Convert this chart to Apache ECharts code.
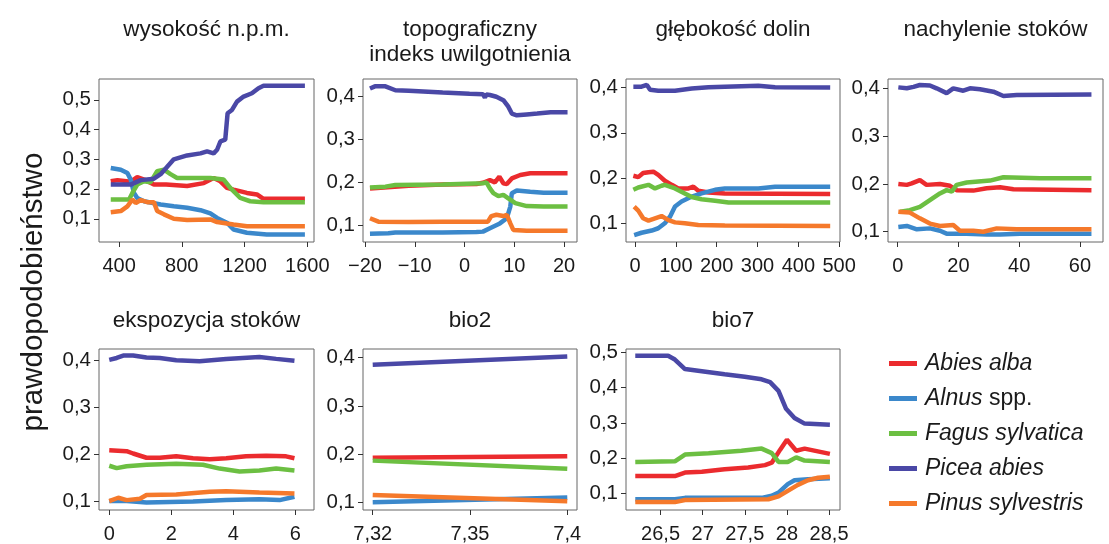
<!DOCTYPE html>
<html>
<head>
<meta charset="utf-8">
<script src="https://cdn.jsdelivr.net/npm/echarts@6/dist/echarts.min.js"></script>
<style>
  html, body { margin: 0; padding: 0; background: #fff; }
  #chart { width: 1109px; height: 544px; }
</style>
</head>
<body>
<div id="chart"></div>
<script>
const FONT = '"Liberation Sans", Arial, Helvetica, sans-serif';

const speciesNames = ['Abies alba', 'Alnus spp.', 'Fagus sylvatica', 'Picea abies', 'Pinus sylvestris'];
const speciesColors = ['#eb2b2e', '#3b88cb', '#6cbf42', '#4a48a6', '#f5792b'];

// wysokość n.p.m.
const elevAbies = [[347,0.226],[390,0.23],[474,0.225],[516,0.24],[560,0.232],[622,0.215],[700,0.215],[834,0.21],[940,0.22],[1003,0.237],[1046,0.226],[1088,0.204],[1130,0.198],[1215,0.187],[1279,0.182],[1321,0.167],[1585,0.167]];
const elevAlnus = [[347,0.271],[411,0.265],[453,0.254],[474,0.232],[495,0.187],[516,0.17],[559,0.159],[665,0.148],[749,0.142],[834,0.137],[919,0.129],[982,0.118],[1025,0.103],[1088,0.087],[1130,0.064],[1215,0.053],[1342,0.047],[1585,0.047]];
const elevFagus = [[347,0.165],[464,0.165],[485,0.187],[516,0.215],[559,0.226],[601,0.223],[643,0.26],[686,0.265],[728,0.25],[770,0.237],[876,0.237],[982,0.237],[1067,0.232],[1109,0.204],[1173,0.17],[1236,0.159],[1321,0.156],[1585,0.156]];
const elevPicea = [[347,0.215],[474,0.215],[538,0.23],[622,0.235],[665,0.25],[707,0.275],[749,0.3],[834,0.313],[919,0.32],[961,0.327],[1003,0.32],[1025,0.332],[1046,0.36],[1077,0.366],[1092,0.455],[1120,0.466],[1152,0.494],[1194,0.511],[1247,0.522],[1289,0.539],[1321,0.547],[1585,0.547]];
const elevPinus = [[347,0.122],[411,0.126],[453,0.142],[485,0.165],[506,0.153],[538,0.163],[580,0.156],[622,0.156],[643,0.126],[686,0.115],[749,0.1],[834,0.096],[982,0.098],[1025,0.089],[1088,0.084],[1130,0.081],[1215,0.075],[1585,0.075]];

// topograficzny indeks uwilgotnienia
const twiAbies = [[-19,0.186],[-11.2,0.192],[-4.4,0.195],[2.4,0.196],[3.7,0.199],[5.1,0.205],[6.1,0.2],[7,0.213],[7.8,0.198],[8.5,0.196],[9.5,0.209],[11.2,0.217],[13.2,0.221],[20.7,0.221]];
const twiAlnus = [[-19,0.081],[-15.3,0.082],[-13.9,0.084],[-4.4,0.084],[2.4,0.085],[3.7,0.086],[5.1,0.094],[7.1,0.105],[8.5,0.117],[9.2,0.144],[9.5,0.175],[10.5,0.181],[13.2,0.178],[15.9,0.176],[20.7,0.176]];
const twiFagus = [[-19,0.188],[-15.9,0.19],[-13.9,0.194],[-4.4,0.195],[3.7,0.198],[4.4,0.2],[5.1,0.186],[5.8,0.175],[6.8,0.168],[7.8,0.171],[8.8,0.163],[10.2,0.152],[12.5,0.145],[15.9,0.144],[20.7,0.144]];
const twiPicea = [[-19,0.417],[-18,0.422],[-15.9,0.422],[-13.9,0.413],[-11.2,0.412],[-4.4,0.408],[1,0.405],[3.7,0.404],[4.1,0.396],[4.4,0.403],[5.1,0.402],[6.4,0.398],[7.8,0.39],[8.8,0.375],[9.5,0.359],[10.5,0.355],[12.5,0.357],[14.6,0.359],[17.3,0.362],[20.7,0.362]];
const twiPinus = [[-19,0.117],[-17.3,0.109],[-11.2,0.108],[-4.4,0.109],[4.7,0.109],[5.4,0.122],[6.4,0.125],[7.8,0.122],[8.5,0.125],[9.2,0.105],[9.8,0.09],[12.5,0.088],[20.7,0.088]];

// głębokość dolin
const valAbies = [[-4,0.205],[8,0.202],[20,0.211],[33,0.213],[45,0.214],[57,0.207],[73,0.194],[90,0.185],[106,0.177],[131,0.177],[143,0.181],[155,0.172],[180,0.168],[220,0.166],[478,0.165]];
const valAlnus = [[-2,0.074],[16,0.079],[41,0.084],[57,0.089],[73,0.1],[86,0.115],[98,0.137],[114,0.148],[139,0.159],[163,0.166],[196,0.174],[220,0.177],[302,0.177],[343,0.181],[478,0.181]];
const valFagus = [[-4,0.174],[8,0.179],[33,0.185],[49,0.177],[65,0.183],[73,0.185],[98,0.177],[122,0.166],[139,0.158],[163,0.153],[196,0.15],[229,0.146],[478,0.146]];
const valPicea = [[-4,0.402],[16,0.402],[29,0.406],[37,0.395],[57,0.393],[98,0.393],[139,0.398],[180,0.401],[220,0.402],[302,0.404],[343,0.401],[478,0.4]];
const valPinus = [[-2,0.137],[8,0.128],[20,0.111],[33,0.106],[49,0.111],[65,0.116],[82,0.107],[98,0.102],[122,0.1],[155,0.096],[220,0.095],[478,0.094]];

// nachylenie stoków
const slopeAbies = [[0.2,0.2],[3,0.198],[4.6,0.201],[7.3,0.208],[9.5,0.198],[13.9,0.2],[17.2,0.196],[19.4,0.187],[24.9,0.186],[29.3,0.191],[33.7,0.193],[38.1,0.189],[63.8,0.187]];
const slopeAlnus = [[0.2,0.11],[3,0.112],[6.3,0.105],[10.6,0.107],[13.9,0.102],[16.1,0.096],[22.7,0.096],[29.3,0.094],[33.7,0.094],[40.3,0.096],[63.8,0.096]];
const slopeFagus = [[0.8,0.142],[4,0.145],[7.3,0.152],[10.6,0.166],[13.9,0.18],[16.1,0.187],[17.8,0.184],[19.4,0.198],[22.7,0.203],[30.4,0.207],[34.8,0.214],[46.9,0.212],[63.8,0.212]];
const slopePicea = [[0.2,0.402],[3,0.4],[5.2,0.403],[7.3,0.407],[10.6,0.406],[12.8,0.4],[16.1,0.39],[18.3,0.4],[21.6,0.395],[23.8,0.4],[27.1,0.398],[31.5,0.393],[34.8,0.384],[39.2,0.386],[63.8,0.387]];
const slopePinus = [[0.2,0.142],[4,0.14],[7.3,0.128],[10.6,0.117],[13.9,0.112],[18.3,0.114],[20.5,0.102],[24.9,0.102],[28.2,0.1],[32.6,0.107],[39.2,0.105],[63.8,0.105]];

// ekspozycja stoków
const aspAbies = [[0,0.209],[0.56,0.207],[0.77,0.202],[1.2,0.193],[1.63,0.193],[2.16,0.196],[2.7,0.192],[3.24,0.19],[3.77,0.192],[4.41,0.196],[5.06,0.197],[5.7,0.196],[5.97,0.192]];
const aspAlnus = [[0,0.101],[0.56,0.101],[1.2,0.098],[2.7,0.1],[3.77,0.103],[4.84,0.105],[5.49,0.103],[5.97,0.11]];
const aspFagus = [[0,0.176],[0.24,0.171],[0.56,0.175],[1.2,0.178],[2.16,0.18],[3.02,0.178],[3.56,0.17],[4.2,0.164],[4.84,0.166],[5.38,0.17],[5.97,0.166]];
const aspPicea = [[0,0.401],[0.24,0.405],[0.45,0.41],[0.77,0.41],[1.2,0.406],[1.63,0.405],[2.16,0.4],[2.91,0.398],[3.77,0.403],[4.84,0.407],[5.38,0.403],[5.97,0.399]];
const aspPinus = [[0,0.101],[0.29,0.108],[0.56,0.103],[0.99,0.106],[1.2,0.114],[2.16,0.115],[3.24,0.121],[3.77,0.122],[4.84,0.119],[5.97,0.117]];

// bio2
const bio2Abies = [[7.32,0.193],[7.40,0.196]];
const bio2Alnus = [[7.32,0.101],[7.40,0.111]];
const bio2Fagus = [[7.32,0.187],[7.40,0.170]];
const bio2Picea = [[7.32,0.385],[7.40,0.402]];
const bio2Pinus = [[7.32,0.116],[7.40,0.103]];
const bio2Ticks = [7.32, 7.36, 7.40];
const bio2TickLabels = ['7,32', '7,35', '7,4'];

// bio7
const bio7Abies = [[26.2,0.149],[26.67,0.149],[26.79,0.159],[26.99,0.161],[27.26,0.168],[27.54,0.173],[27.74,0.18],[27.82,0.187],[27.92,0.224],[28.0,0.252],[28.11,0.221],[28.21,0.227],[28.51,0.212]];
const bio7Alnus = [[26.2,0.083],[26.67,0.083],[26.79,0.087],[27.7,0.087],[27.82,0.093],[27.9,0.102],[28.01,0.126],[28.09,0.137],[28.25,0.14],[28.51,0.143]];
const bio7Fagus = [[26.2,0.189],[26.67,0.191],[26.79,0.21],[27.07,0.214],[27.46,0.221],[27.7,0.227],[27.82,0.214],[27.9,0.189],[28.01,0.189],[28.11,0.202],[28.21,0.193],[28.51,0.189]];
const bio7Picea = [[26.2,0.491],[26.59,0.491],[26.67,0.48],[26.79,0.453],[26.99,0.447],[27.26,0.438],[27.5,0.431],[27.7,0.424],[27.8,0.416],[27.9,0.391],[27.99,0.34],[28.09,0.314],[28.21,0.298],[28.51,0.295]];
const bio7Pinus = [[26.2,0.075],[26.67,0.075],[26.79,0.081],[27.78,0.083],[27.9,0.091],[28.01,0.107],[28.13,0.124],[28.25,0.137],[28.37,0.144],[28.51,0.147]];

const yTicks4 = [0.1, 0.2, 0.3, 0.4];
const yTicks5 = [0.1, 0.2, 0.3, 0.4, 0.5];

const colLeft = [99, 363, 626, 888];
const colWidth = [215, 214, 214, 215];
const rowTop = [79, 349];
const rowHeight = [163, 164];

const panels = [
  { title: 'wysokość n.p.m.', row: 0, col: 0, x: [272, 1643], xTicks: [400, 800, 1200, 1600], y: [0.022, 0.570], yTicks: yTicks5,
    data: [elevAbies, elevAlnus, elevFagus, elevPicea, elevPinus] },
  { title: 'topograficzny\nindeks uwilgotnienia', row: 0, col: 1, x: [-20.4, 22.6], xTicks: [-20, -10, 0, 10, 20], y: [0.062, 0.439], yTicks: yTicks4,
    data: [twiAbies, twiAlnus, twiFagus, twiPicea, twiPinus] },
  { title: 'głębokość dolin', row: 0, col: 2, x: [-22, 502], xTicks: [0, 100, 200, 300, 400, 500], y: [0.0586, 0.419], yTicks: yTicks4,
    data: [valAbies, valAlnus, valFagus, valPicea, valPinus] },
  { title: 'nachylenie stoków', row: 0, col: 3, x: [-3.2, 67.6], xTicks: [0, 20, 40, 60], y: [0.0785, 0.4195], yTicks: yTicks4,
    data: [slopeAbies, slopeAlnus, slopeFagus, slopePicea, slopePinus] },
  { title: 'ekspozycja stoków', row: 1, col: 0, x: [-0.33, 6.6], xTicks: [0, 2, 4, 6], y: [0.082, 0.424], yTicks: yTicks4,
    data: [aspAbies, aspAlnus, aspFagus, aspPicea, aspPinus] },
  { title: 'bio2', row: 1, col: 1, x: [7.316, 7.404], xTicks: bio2Ticks, xLabels: bio2TickLabels, y: [0.085, 0.4176], yTicks: yTicks4,
    data: [bio2Abies, bio2Alnus, bio2Fagus, bio2Picea, bio2Pinus] },
  { title: 'bio7', row: 1, col: 2, x: [26.09, 28.63], xTicks: [26.5, 27, 27.5, 28, 28.5], y: [0.0525, 0.510], yTicks: yTicks5,
    data: [bio7Abies, bio7Alnus, bio7Fagus, bio7Picea, bio7Pinus] }
];

function fmtNum(v) {
  let s = String(Math.round(v * 1000) / 1000).replace('.', ',');
  return s.replace('-', '\u2212');
}

const grids = [], xAxes = [], yAxes = [], titles = [], series = [];
panels.forEach((p, i) => {
  const left = colLeft[p.col], top = rowTop[p.row];
  grids.push({
    left: left, top: top, width: colWidth[p.col], height: rowHeight[p.row],
    show: true, borderColor: '#666', borderWidth: 1
  });
  titles.push({
    text: p.title, left: left + colWidth[p.col] / 2 - 5, top: p.row === 0 ? 12 : 303, textAlign: 'center',
    textStyle: { fontFamily: FONT, fontSize: 22.5, fontWeight: 'normal', color: '#1a1a1a', lineHeight: 25 }
  });
  xAxes.push({
    type: 'value', gridIndex: i, min: p.x[0], max: p.x[1],
    axisLine: { show: false, onZero: false },
    splitLine: { show: false },
    axisTick: { show: true, length: 5, customValues: p.xTicks, lineStyle: { color: '#333' } },
    axisLabel: {
      customValues: p.xTicks, fontFamily: FONT, fontSize: 20, color: '#1a1a1a', margin: 14,
      formatter: v => p.xLabels ? p.xLabels[p.xTicks.findIndex(t => Math.abs(t - v) < 1e-6)] : fmtNum(v)
    }
  });
  yAxes.push({
    type: 'value', gridIndex: i, min: p.y[0], max: p.y[1],
    axisLine: { show: false, onZero: false },
    splitLine: { show: false },
    axisTick: { show: true, length: 5, customValues: p.yTicks, lineStyle: { color: '#333' } },
    axisLabel: {
      customValues: p.yTicks, fontFamily: FONT, fontSize: 20.5, color: '#1a1a1a', margin: 8,
      formatter: v => v.toFixed(1).replace('.', ',')
    }
  });
  p.data.forEach((d, j) => {
    series.push({
      name: speciesNames[j], type: 'line', xAxisIndex: i, yAxisIndex: i,
      data: d, symbol: 'none', showSymbol: false,
      lineStyle: { width: 4.5, color: speciesColors[j] },
      itemStyle: { color: speciesColors[j] }
    });
  });
});

const chart = echarts.init(document.getElementById('chart'));
chart.setOption({
  animation: false,
  backgroundColor: '#fff',
  title: titles,
  grid: grids,
  xAxis: xAxes,
  yAxis: yAxes,
  legend: {
    orient: 'vertical', left: 884, top: 347,
    icon: 'rect', itemWidth: 28, itemHeight: 5, itemGap: 12,
    selectedMode: false,
    data: speciesNames,
    formatter: name => name.endsWith(' spp.') ? '{i|' + name.replace(' spp.', '') + '} {n|spp.}' : '{i|' + name + '}',
    textStyle: {
      fontFamily: FONT, fontSize: 23, color: '#1a1a1a', padding: [0, 0, 0, 3], lineHeight: 23,
      rich: {
        i: { fontFamily: FONT, fontSize: 23, fontStyle: 'italic', color: '#1a1a1a', lineHeight: 23 },
        n: { fontFamily: FONT, fontSize: 23, color: '#1a1a1a', lineHeight: 23 }
      }
    }
  },
  graphic: [{
    type: 'text', x: 34, y: 292, rotation: Math.PI / 2,
    style: { text: 'prawdopodobieństwo', font: '29.5px ' + FONT, fill: '#1a1a1a', textAlign: 'center', textVerticalAlign: 'middle' }
  }],
  series: series
});
</script>
</body>
</html>
